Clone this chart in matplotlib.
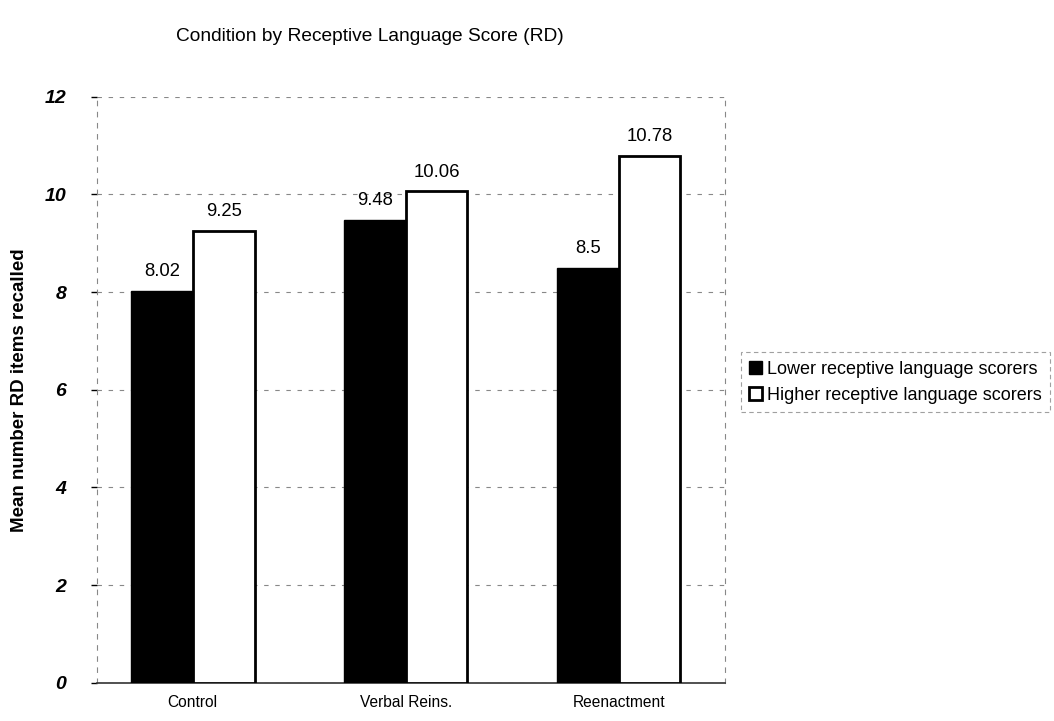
import numpy as np
import matplotlib
matplotlib.use("Agg")
import matplotlib.pyplot as plt

plt.rcParams['font.family'] = ['Liberation Sans', 'DejaVu Sans']

# data
conditions = ['Control', 'Verbal Reins.', 'Reenactment']
lower_scores = [8.02, 9.48, 8.5]
higher_scores = [9.25, 10.06, 10.78]
lower_labels = ['8.02', '9.48', '8.5']
higher_labels = ['9.25', '10.06', '10.78']
yticks = [0, 2, 4, 6, 8, 10, 12]

fig = plt.figure(figsize=(10.54, 7.21), dpi=100)
ax = fig.add_axes([0.092, 0.053, 0.596, 0.813])

x = np.arange(len(conditions))
w = 0.29
b1 = ax.bar(x - w / 2, lower_scores, w, color='black', edgecolor='black', linewidth=1,
            label='Lower receptive language scorers', zorder=3)
b2 = ax.bar(x + w / 2, higher_scores, w, color='white', edgecolor='black', linewidth=2,
            label='Higher receptive language scorers', zorder=3)

for rect, lab in zip(b1, lower_labels):
    ax.text(rect.get_x() + rect.get_width() / 2, rect.get_height() + 0.22, lab,
            ha='center', va='bottom', fontsize=13.3)
for rect, lab in zip(b2, higher_labels):
    ax.text(rect.get_x() + rect.get_width() / 2, rect.get_height() + 0.22, lab,
            ha='center', va='bottom', fontsize=13.3)

ax.set_xlim(-0.45, 2.5)
ax.set_ylim(0, 12)
ax.set_yticks(yticks)
ax.set_yticklabels([str(t) for t in yticks], fontsize=14, fontweight='bold', style='italic')
ax.set_xticks(x)
ax.set_xticklabels(conditions, fontsize=11.2)
ax.tick_params(axis='x', length=0, pad=9)
ax.tick_params(axis='y', length=4, width=1, pad=18)

ax.grid(axis='y', color='#888888', linestyle=(0, (4, 6)), linewidth=0.8, zorder=0)
for side in ['left', 'right']:
    ax.spines[side].set_linestyle((0, (4, 6)))
    ax.spines[side].set_color('#888888')
    ax.spines[side].set_linewidth(0.8)
ax.spines['top'].set_visible(False)
ax.spines['bottom'].set_color('#333333')
ax.spines['bottom'].set_linewidth(1.2)

ax.set_ylabel('Mean number RD items recalled', fontsize=13.5, fontweight='bold', labelpad=12)

fig.text(0.351, 0.95, 'Condition by Receptive Language Score (RD)', ha='center', va='center',
         fontsize=13.8)

leg = fig.legend(handles=[b1, b2], loc='center left', bbox_to_anchor=(0.703, 0.470),
                 fontsize=13, frameon=True, fancybox=False, handlelength=0.7,
                 handleheight=0.7, handletextpad=0.3, borderpad=0.45, labelspacing=0.5,
                 borderaxespad=0)
leg.get_frame().set_edgecolor('#888888')
leg.get_frame().set_linewidth(0.8)
leg.get_frame().set_linestyle((0, (4, 3)))

fig.savefig('out.png', dpi=100)
